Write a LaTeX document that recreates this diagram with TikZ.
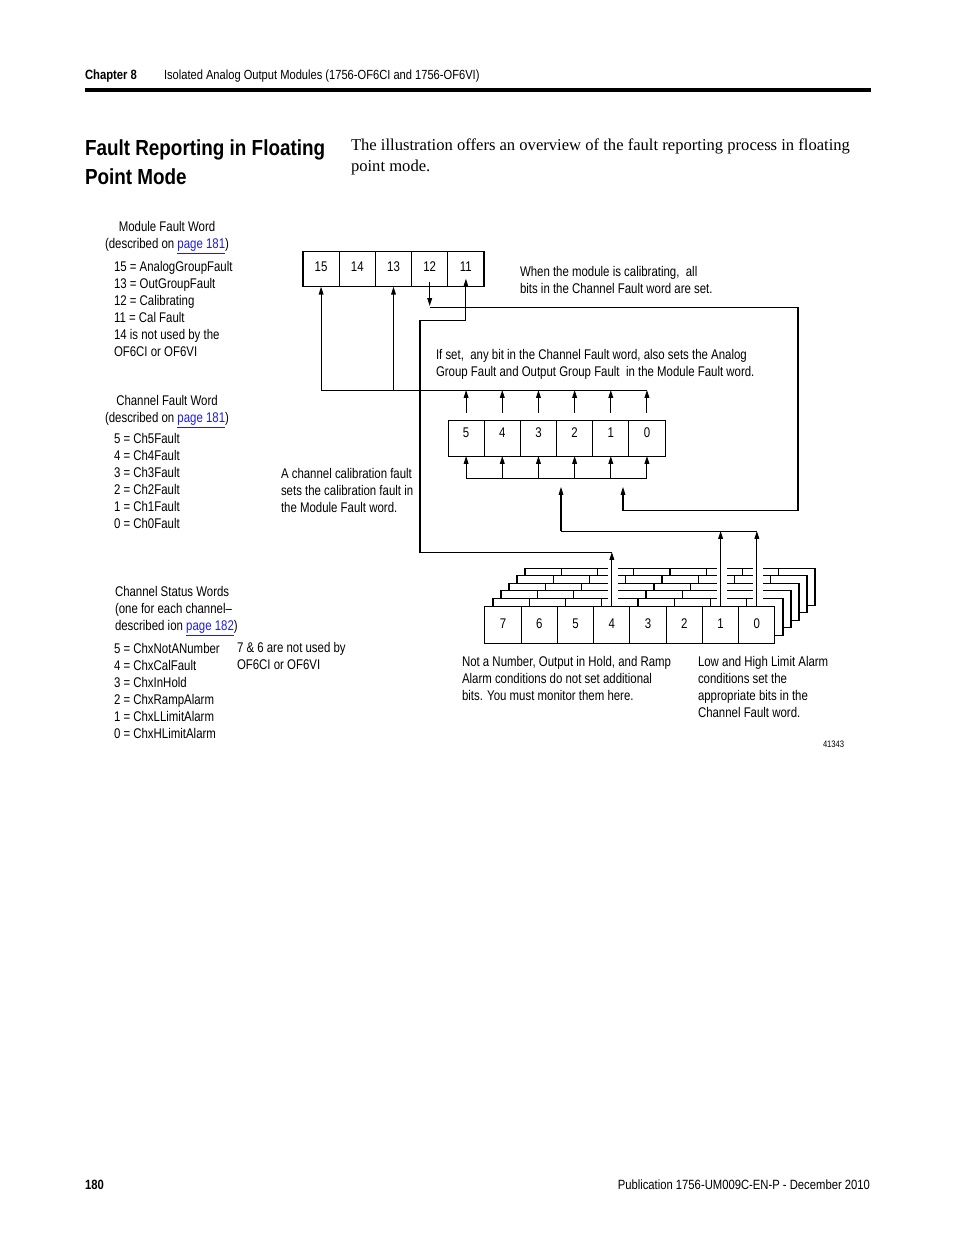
\documentclass[tikz,border=0pt]{standalone}
\usepackage{fontspec}
\setmainfont{Liberation Sans}[FakeStretch=0.815]
\newfontfamily\hdrfont{Liberation Sans}[FakeStretch=0.84]
\newfontfamily\titlefont{Liberation Sans}[FakeStretch=0.865]
\newfontfamily\serifpara{Liberation Serif}
\usetikzlibrary{arrows.meta,calc}
\definecolor{linkblue}{RGB}{30,30,220}
\newcommand{\lnk}[1]{\textcolor{linkblue}{\underline{#1}}}
\begin{document}
\begin{tikzpicture}[x=0.6415pt,y=-0.6415pt,
  every node/.style={inner sep=0pt, outer sep=0pt},
  body/.style={font=\fontsize{9}{10.906}\selectfont},
  txt/.style={body, anchor=base west, align=left},
  ln/.style={line width=0.65pt},
  arr/.style={ln, -{Triangle[length=5pt,width=3pt]}},
  cellbase/.style={draw, line width=0.65pt, fill=white, body},
  mcell/.style={cellbase, minimum width=23.22pt, minimum height=22.45pt, text height=2.3pt, text depth=0pt},
  ccell/.style={cellbase, minimum width=23.2pt, minimum height=23.09pt, text height=0pt, text depth=1.28pt},
  scell/.style={cellbase, minimum width=23.25pt, minimum height=23.74pt, text height=4.5pt, text depth=0pt},
  layer/.style={line width=0.65pt, fill=white}
]
\fill[white] (0,0) rectangle (954,1235);
\useasboundingbox (0,0) rectangle (954,1235);

% header (multi-line nodes are placed by the baseline of their last line)
\node[anchor=base west, font=\hdrfont\fontsize{8.6}{10}\selectfont\bfseries] (chap) at (85,79) {Chapter 8};
\node[anchor=base west, font=\hdrfont\fontsize{8.5}{10}\selectfont] (chaptitle) at (164,79) {Isolated Analog Output Modules (1756-OF6CI and 1756-OF6VI)};
\draw[line width=2pt] (85,90) -- (871,90);

% title and intro
\node[anchor=base west, align=left, font=\titlefont\fontsize{14}{18}\selectfont\bfseries] (title) at (85,184) {Fault Reporting in Floating\\Point Mode};
\node[anchor=base west, align=left, font=\serifpara\fontsize{10.65}{13.47}\selectfont] (intro) at (351,171) {The illustration offers an overview of the fault reporting process in floating\\point mode.};

% left descriptions
\node[body, anchor=base, align=center] (mfwTitle) at (167,248) {Module Fault Word\\(described on \lnk{page 181})};
\node[txt] (mfwList) at (114,356) {15 = AnalogGroupFault\\13 = OutGroupFault\\12 = Calibrating\\11 = Cal Fault\\14 is not used by the\\OF6CI or OF6VI};
\node[body, anchor=base, align=center] (cfwTitle) at (167,422) {Channel Fault Word\\(described on \lnk{page 181})};
\node[txt] (cfwList) at (114,528.5) {5 = Ch5Fault\\4 = Ch4Fault\\3 = Ch3Fault\\2 = Ch2Fault\\1 = Ch1Fault\\0 = Ch0Fault};
\node[txt] (cswTitle) at (115,630) {Channel Status Words\\(one for each channel\textendash\\described ion \lnk{page 182})};
\node[txt] (cswList) at (114,738) {5 = ChxNotANumber\\4 = ChxCalFault\\3 = ChxInHold\\2 = ChxRampAlarm\\1 = ChxLLimitAlarm\\0 = ChxHLimitAlarm};
\node[txt] (unused) at (237,669) {7 \& 6 are not used by\\OF6CI or OF6VI};

% notes
\node[txt] (calNote) at (281,512) {A channel calibration fault\\sets the calibration fault in\\the Module Fault word.};
\node[txt] (calibNote) at (520,293) {When the module is calibrating,\ \ all\\bits in the Channel Fault word are set.};
\node[txt] (setNote) at (436,376) {If set,\ \ any bit in the Channel Fault word, also sets the Analog\\Group Fault and Output Group Fault\ \ in the Module Fault word.};
\node[txt] (nanNote) at (462,700) {Not a Number, Output in Hold, and Ramp\\Alarm conditions do not set additional\\bits. You must monitor them here.};
\node[txt] (limNote) at (698,717) {Low and High Limit Alarm\\conditions set the\\appropriate bits in the\\Channel Fault word.};
\node[anchor=base west, font=\fontsize{6}{7}\selectfont] (fignum) at (823,747) {41343};

% footer
\node[anchor=base west, font=\hdrfont\fontsize{8.6}{10}\selectfont\bfseries] (pagenum) at (85,1189) {180};
\node[anchor=base east, font=\hdrfont\fontsize{8.6}{10}\selectfont] (pub) at (870,1189) {Publication 1756-UM009C-EN-P - December 2010};

% module fault word
\foreach \lab [count=\i from 0] in {15,14,13,12,11}
  \node[mcell] (m\lab) at (321.1+\i*36.2, 269.2) {\lab};

% channel fault word
\foreach \lab [count=\i from 0] in {5,4,3,2,1,0}
  \node[ccell] (c\lab) at (466.1+\i*36.17, 438) {\lab};

% channel status words: stacked layers behind
\foreach \k in {5,4,3,2,1} {
  \draw[layer] (485+8*\k, 606-7.6*\k) rectangle (775+8*\k, 643-7.6*\k);
  \foreach \j in {1,...,7}
    \draw[ln] (485+8*\k+36.25*\j, 606-7.6*\k) -- (485+8*\k+36.25*\j, 643-7.6*\k);
}
\foreach \lab [count=\i from 0] in {7,6,5,4,3,2,1,0}
  \node[scell] (s\lab) at (503.1+\i*36.25, 624.5) {\lab};
\foreach \s in {s4,s1,s0}
  \fill[white] ($(\s.north)+(-4,-46)$) rectangle ($(\s.north)+(6,-2)$);

% channel fault bits -> module bits 15 and 13
\coordinate (busA) at (0,390);
\draw[ln] (m15.south |- busA) -- (c0.north |- busA);
\draw[arr] (m15.south |- busA) -- (m15.south);
\draw[arr] (m13.south |- busA) -- (m13.south);
\foreach \b in {5,4,3,2,1,0}
  \draw[arr] ($(c\b.north)+(0,-7)$) -- (c\b.north |- busA);

% bus into channel fault bits
\coordinate (busB) at (0,478);
\draw[ln] (c5.south |- busB) -- (c0.south |- busB);
\foreach \b in {5,4,3,2,1,0}
  \draw[arr] (c\b.south |- busB) -- (c\b.south);

% calibrating (12) -> all channel fault bits
\coordinate (k12) at (0,307);
\coordinate (r12a) at (798,307);
\coordinate (r12b) at (798,510);
\coordinate (r12c) at (623,510);
\coordinate (calIn) at (623,487);
\draw[arr] ($(m12.south)+(0,-5)$) -- ($(m12.south |- k12)+(0,-1)$);
\draw[arr] (m12.south |- k12) -- (r12a) -- (r12b) -- (r12c) -- (calIn);

% ChxCalFault (4) -> Cal Fault (11)
\coordinate (cf1) at (420,552);
\coordinate (cf2) at (420,320);
\draw[arr] (s4.north) -- (s4.north |- cf1);
\draw[arr] (s4.north |- cf1) -- (cf1) -- (cf2) -| ($(m11.south)+(0,-8)$);

% limit alarms (1,0) -> channel fault bits
\coordinate (lm1) at (561,531);
\coordinate (lm2) at (561,487);
\draw[arr] (s1.north) -- (s1.north |- lm1);
\draw[arr] (s0.north) -- (s0.north |- lm1);
\draw[ln] (lm1) -- (s0.north |- lm1);
\draw[arr] (lm1) -- (lm2);
\end{tikzpicture}
\end{document}
